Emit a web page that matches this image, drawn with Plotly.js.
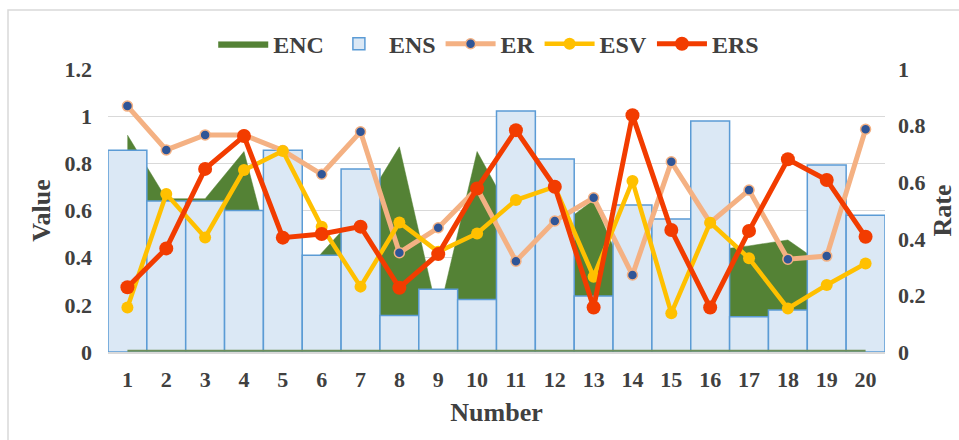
<!DOCTYPE html>
<html>
<head>
<meta charset="utf-8">
<script src="https://cdn.plot.ly/plotly-3.0.1.min.js"></script>
<style>html,body{margin:0;padding:0;background:#fff;}#chart{width:959px;height:440px;}</style>
</head>
<body>
<div id="chart"></div>
<script>
const categories = ['1','2','3','4','5','6','7','8','9','10','11','12','13','14','15','16','17','18','19','20'];
const ENC = [0.92,0.65,0.65,0.85,0.22,0.42,0.60,0.87,0.15,0.85,0.55,0.52,0.645,0.25,0.35,0.43,0.45,0.475,0.36,0.30];
const ENS = [0.855,0.64,0.64,0.60,0.855,0.41,0.776,0.155,0.266,0.223,1.022,0.818,0.237,0.623,0.564,0.98,0.15,0.178,0.793,0.58];
const ER  = [0.869,0.714,0.767,0.767,0.712,0.628,0.778,0.351,0.439,0.578,0.321,0.463,0.545,0.272,0.672,0.457,0.572,0.328,0.339,0.787];
const ESV = [0.157,0.558,0.405,0.643,0.71,0.443,0.231,0.458,0.354,0.419,0.537,0.584,0.266,0.604,0.137,0.457,0.331,0.154,0.237,0.313];
const ERS = [0.229,0.366,0.647,0.763,0.404,0.417,0.443,0.227,0.346,0.578,0.784,0.584,0.157,0.837,0.431,0.157,0.428,0.681,0.608,0.407];
const leftTicks = [0,0.2,0.4,0.6,0.8,1,1.2];
const leftTickText = ['0','0.2','0.4','0.6','0.8','1','1.2'];
const rightTicks = [0,0.2,0.4,0.6,0.8,1];
const rightTickText = ['0','0.2','0.4','0.6','0.8','1'];

const serif = 'Liberation Serif, Times New Roman, serif';
const txt = '#404040';

const traces = [
  {type:'scatter', name:'ENC', x:categories, y:ENC, xaxis:'x', yaxis:'y',
   mode:'lines', fill:'tozeroy', fillcolor:'#548235', line:{color:'#548235', width:0.5}},
  {type:'bar', name:'ENS', x:categories, y:ENS, xaxis:'x', yaxis:'y2',
   marker:{color:'#dbe8f5', line:{color:'#5b9bd5', width:1.5}}},
  {type:'scatter', name:'ER', x:categories, y:ER, xaxis:'x', yaxis:'y3',
   mode:'lines+markers', line:{color:'#f4b183', width:5},
   marker:{color:'#2f5597', size:10, line:{color:'#f4b183', width:1.5}}},
  {type:'scatter', name:'ESV', x:categories, y:ESV, xaxis:'x', yaxis:'y3',
   mode:'lines+markers', line:{color:'#ffc000', width:4.5},
   marker:{color:'#ffc000', size:12}},
  {type:'scatter', name:'ERS', x:categories, y:ERS, xaxis:'x', yaxis:'y3',
   mode:'lines+markers', line:{color:'#f23c00', width:5},
   marker:{color:'#f23c00', size:14}}
];

const tickFont = {family:serif, size:22, color:txt, weight:700};
const titleFont = {family:serif, size:26, color:txt, weight:700};

const layout = {
  width:959, height:440,
  margin:{l:108, r:74, t:69, b:88},
  paper_bgcolor:'#ffffff', plot_bgcolor:'rgba(0,0,0,0)',
  bargap:0,
  showlegend:true,
  legend:{orientation:'h', x:0.49, xanchor:'center', y:1.088, yanchor:'middle',
          font:{family:serif, size:24, color:txt, weight:700}, itemwidth:50, tracegroupgap:0,
          bgcolor:'rgba(0,0,0,0)'},
  xaxis:{type:'category', range:[-0.5,19.5], showgrid:false, ticks:'', tickfont:tickFont,
         showline:true, linecolor:'#d9d9d9', linewidth:1.5, ticklabelstandoff:7,
         title:{text:'Number', font:titleFont, standoff:12}},
  yaxis:{range:[0,1.2], tickvals:leftTicks, ticktext:leftTickText, tickfont:tickFont,
         showgrid:true, gridcolor:'#d9d9d9', gridwidth:1, zeroline:false, showline:false,
         ticks:'', ticklabelstandoff:15,
         title:{text:'Value', font:titleFont, standoff:6}},
  yaxis2:{overlaying:'y', range:[0,1.2], visible:false, showgrid:false, zeroline:false},
  yaxis3:{overlaying:'y', side:'right', range:[0,1], tickvals:rightTicks, ticktext:rightTickText,
          tickfont:tickFont, showgrid:false, zeroline:false, showline:false, ticks:'',
          ticklabelstandoff:12,
          title:{text:'Rate', font:titleFont, standoff:8}},
  shapes:[
    {type:'line', xref:'x', yref:'paper', x0:0, x1:categories.length-1,
     y0:0.004, y1:0.004, line:{color:'#6f8f5a', width:2}, layer:'above'},
    {type:'rect', xref:'paper', yref:'paper', x0:-0.1287, x1:1.3, y0:-0.5, y1:1.2085,
     line:{color:'#d9d9d9', width:1.5}, fillcolor:'rgba(0,0,0,0)', layer:'below'}
  ]
};

Plotly.newPlot('chart', traces, layout, {displayModeBar:false, staticPlot:true});
</script>
</body>
</html>
